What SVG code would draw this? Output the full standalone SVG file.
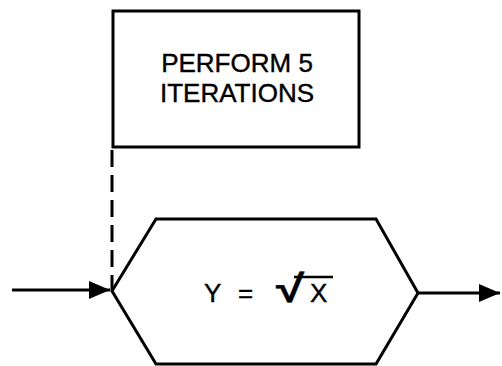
<svg xmlns="http://www.w3.org/2000/svg" width="502" height="366" viewBox="0 0 502 366">
<style>
.ln{fill:none;stroke:#000;stroke-width:3;stroke-linejoin:miter}
.t{font-family:"Liberation Sans",Arial,sans-serif;font-size:26px;fill:#000;stroke:#000;stroke-width:0.4}
</style>
<defs>
<marker id="ah" markerWidth="7" markerHeight="6" refX="7" refY="3" orient="auto" markerUnits="strokeWidth">
<path d="M0,0 L7,3 L0,6 Z" fill="#000"/>
</marker>
</defs>
<rect width="502" height="366" fill="#fff"/>
<g id="box">
<rect class="ln" x="113" y="11" width="246" height="136"/>
<text class="t" x="237" y="72" text-anchor="middle">PERFORM 5</text>
<text class="t" x="237" y="102" text-anchor="middle">ITERATIONS</text>
</g>
<g id="process">
<path class="ln" d="M112,291 L156,219 L376,219 L418,293 L376,364 L156,364 Z"/>
<text class="t" x="204" y="302">Y</text>
<text class="t" x="238" y="302">=</text>
<text class="t" transform="translate(276,302) scale(1.35,1)" style="font-size:38px;font-weight:bold">√</text>
<line x1="294" y1="277" x2="333" y2="277" stroke="#000" stroke-width="2.5"/>
<text class="t" x="310" y="302">X</text>
</g>
<g id="connectors">
<line class="ln" x1="112" y1="150" x2="112" y2="290" stroke-dasharray="17,8"/>
<line x1="12" y1="290" x2="110" y2="290" stroke="#000" stroke-width="3" marker-end="url(#ah)"/>
<line x1="418" y1="293" x2="500" y2="293" stroke="#000" stroke-width="3" marker-end="url(#ah)"/>
</g>
</svg>
